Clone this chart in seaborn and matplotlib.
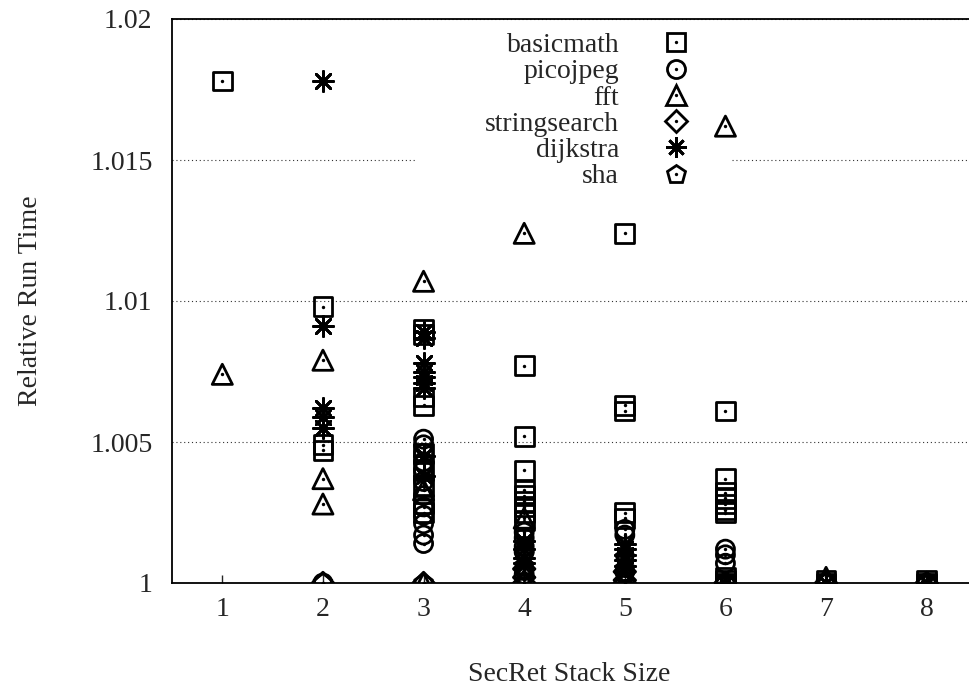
import numpy as np
import pandas as pd
import seaborn as sns
import matplotlib.pyplot as plt
from matplotlib.lines import Line2D
from matplotlib.patches import Rectangle
from matplotlib.legend_handler import HandlerTuple
from matplotlib.ticker import FormatStrFormatter

# values (x = SecRet stack size, y = relative run time)
basicmath_x = [1, 2, 2, 2, 3, 3, 3, 3, 3, 3, 3, 3, 3, 4, 4, 4, 4, 4, 4, 4, 4, 4,
               5, 5, 5, 5, 5, 6, 6, 6, 6, 6, 6, 6, 6, 6, 6, 7, 7, 8, 8]
basicmath_y = [1.0178, 1.0098, 1.0049, 1.0047, 1.0090, 1.0088, 1.0066, 1.0063, 1.0046,
               1.0040, 1.0034, 1.0028, 1.0025, 1.0077, 1.0052, 1.0040, 1.0033, 1.0031,
               1.0029, 1.0027, 1.0025, 1.0022, 1.0124, 1.0063, 1.0061, 1.0025, 1.0023,
               1.0061, 1.0037, 1.0032, 1.0030, 1.0028, 1.0026, 1.0025, 1.0002, 1.0001,
               1.0, 1.0, 1.0001, 1.0, 1.0001]

picojpeg_x = [2, 3, 3, 3, 3, 3, 3, 3, 3, 3, 3, 3, 3, 4, 4, 4, 4, 4, 5, 5, 5,
              6, 6, 6, 6, 7, 8]
picojpeg_y = [1.0, 1.0051, 1.0049, 1.0046, 1.0043, 1.0040, 1.0036, 1.0031, 1.0027,
              1.0024, 1.0021, 1.0017, 1.0014, 1.0018, 1.0016, 1.0013, 1.0011, 1.0003,
              1.0019, 1.0017, 1.0004, 1.0012, 1.0010, 1.0007, 1.0, 1.0, 1.0]

fft_x = [1, 2, 2, 2, 3, 3, 3, 4, 4, 4, 5, 6, 6, 7, 8]
fft_y = [1.0074, 1.0079, 1.0037, 1.0028, 1.0107, 1.0033, 1.0, 1.0124, 1.0023, 1.0001,
         1.0001, 1.0162, 1.0, 1.0002, 1.0]

stringsearch_x = [2, 3, 4, 4, 4, 5, 5, 5, 6, 7, 8]
stringsearch_y = [1.0, 1.0, 1.0005, 1.0002, 1.0, 1.0004, 1.0001, 1.0, 1.0, 1.0, 1.0]

dijkstra_x = [2, 2, 2, 2, 2, 3, 3, 3, 3, 3, 3, 3, 3, 3, 4, 4, 4, 4, 5, 5, 5, 5, 5,
              6, 7, 8]
dijkstra_y = [1.0178, 1.0091, 1.0062, 1.0059, 1.0055, 1.0089, 1.0087, 1.0078, 1.0075,
              1.0073, 1.0071, 1.0069, 1.0045, 1.0038, 1.0015, 1.0012, 1.0009, 1.0007,
              1.0014, 1.0012, 1.0010, 1.0008, 1.0006, 1.0, 1.0, 1.0]

sha_x = [2, 3, 4, 4, 4, 5, 5, 5, 6, 7, 8]
sha_y = [1.0, 1.0, 1.0010, 1.0006, 1.0004, 1.0009, 1.0005, 1.0003, 1.0, 1.0, 1.0]

names = ["basicmath", "picojpeg", "fft", "stringsearch", "dijkstra", "sha"]
xs = [basicmath_x, picojpeg_x, fft_x, stringsearch_x, dijkstra_x, sha_x]
ys = [basicmath_y, picojpeg_y, fft_y, stringsearch_y, dijkstra_y, sha_y]
markers = ["s", "o", "^", "D", (8, 2, 0), "p"]
sizes = [13.5, 13, 14.5, 11, 14.5, 13.5]
LW = 2.0

sns.set_style("white")
plt.rcParams["font.family"] = ["Liberation Serif", "DejaVu Serif"]
plt.rcParams["font.size"] = 20

fig = plt.figure(figsize=(9.69, 6.98), dpi=100)
ax = fig.add_axes([172 / 969, 115 / 698, 805 / 969, 564 / 698])

handles = []
for name, x, y, m, ms in zip(names, xs, ys, markers, sizes):
    df = pd.DataFrame({"size": x, "time": y})
    if m == (8, 2, 0):
        sns.scatterplot(data=df, x="size", y="time", marker=m, s=ms ** 2,
                        color="black", linewidth=LW, ax=ax, zorder=4, legend=False)
        h = Line2D([], [], ls="none", marker=m, ms=ms, color="black", mew=LW)
    else:
        sns.scatterplot(data=df, x="size", y="time", marker=m, s=ms ** 2,
                        facecolor="none", edgecolor="black", linewidth=LW,
                        ax=ax, zorder=4, legend=False)
        sns.scatterplot(data=df, x="size", y="time", marker="o", s=6,
                        color="black", linewidth=0, ax=ax, zorder=5, legend=False)
        h = (Line2D([], [], ls="none", marker=m, ms=ms, mfc="none", mec="black", mew=LW),
             Line2D([], [], ls="none", marker="o", ms=2.4, color="black", mew=0))
    handles.append(h)

ax.set_xlim(0.5, 8.5)
ax.set_ylim(1.0, 1.02)
ax.set_xticks(range(1, 9))
ax.set_yticks([1.0, 1.005, 1.01, 1.015, 1.02])
ax.yaxis.set_major_formatter(FormatStrFormatter("%g"))
ax.tick_params(axis="x", direction="in", length=6, width=1, pad=10, labelsize=20,
               bottom=True, top=False)
ax.tick_params(axis="y", length=0, pad=14, labelsize=20)

ax.yaxis.grid(True, linestyle=(0, (1, 2.5)), color="#333333", linewidth=0.8)
ax.set_axisbelow(True)
for side in ["left", "bottom", "top", "right"]:
    ax.spines[side].set_color("black")
    ax.spines[side].set_linewidth(1.3)

# white area behind the key
ax.add_patch(Rectangle((0.302, 0.69), 0.391, 0.30, transform=ax.transAxes,
                       facecolor="white", edgecolor="none", zorder=1.5))

leg = ax.legend(handles, names, handler_map={tuple: HandlerTuple(ndivide=1)},
                loc="upper right", bbox_to_anchor=(0.6435, 0.976), frameon=False,
                markerfirst=False, handlelength=1.0, handletextpad=1.55,
                labelspacing=0.03, borderpad=0, borderaxespad=0, fontsize=20)
leg.set_zorder(3)

ax.set_xlabel("SecRet Stack Size", fontsize=20)
ax.set_ylabel("Relative Run Time", fontsize=20)
ax.xaxis.set_label_coords(0.494, -0.14)
ax.yaxis.set_label_coords(-0.16, 0.5)

fig.savefig("out.png", dpi=100)
